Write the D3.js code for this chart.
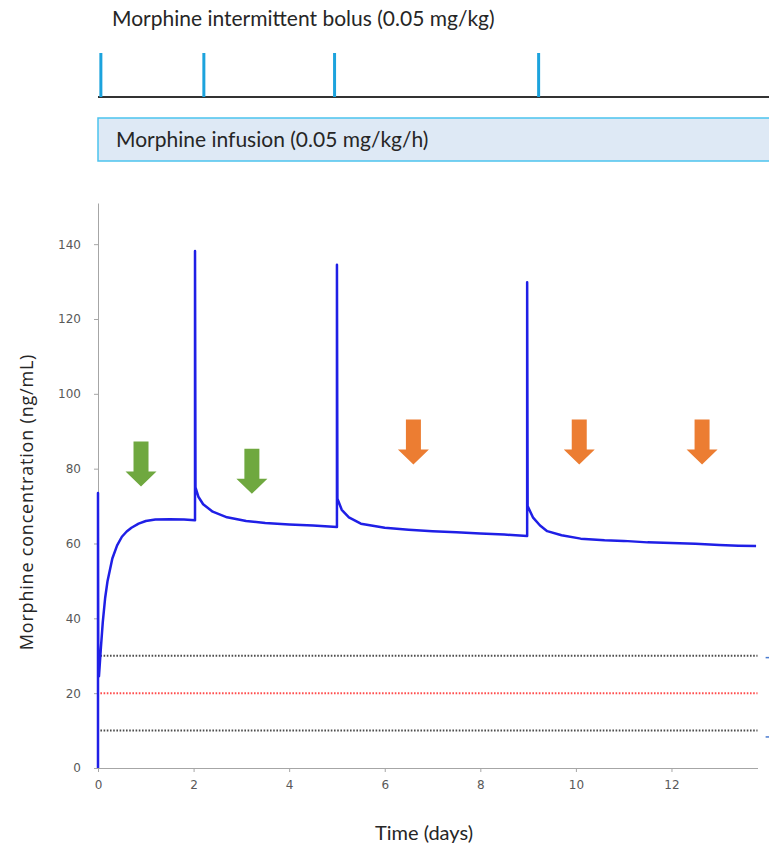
<!DOCTYPE html>
<html lang="en">
<head>
<meta charset="UTF-8">
<title>Morphine concentration</title>
<script src="https://d3js.org/d3.v7.min.js"></script>
<style>
  body { margin: 0; background: #fff; }
  .tick text { font-family: "DejaVu Sans", sans-serif; font-size: 12px; fill: #595959; }
  .axis path, .axis line { stroke: #a6a6a6; }
</style>
</head>
<body>
<script>
// ---- data ----
var timeDays = [0, 0, 0.005, 0.02, 0.06, 0.1, 0.15, 0.2, 0.3, 0.4, 0.5, 0.6, 0.7, 0.85, 1.0, 1.2, 1.5, 1.8, 2.03,
  2.03, 2.04, 2.1, 2.2, 2.4, 2.7, 3.1, 3.5, 4.0, 4.5, 5.0,
  5.0, 5.01, 5.1, 5.25, 5.5, 6.0, 6.5, 7.0, 7.5, 8.0, 8.5, 8.98,
  8.98, 8.99, 9.1, 9.25, 9.4, 9.7, 10.1, 10.6, 11.0, 11.5, 12.0, 12.5, 13.0, 13.4, 13.77];
var concentration = [0, 73.5, 30, 24.5, 32, 39, 45.5, 50, 56, 59.5, 61.8, 63.2, 64.2, 65.3, 66, 66.4, 66.5, 66.4, 66.2,
  138.2, 75, 72.5, 70.5, 68.5, 67, 66, 65.5, 65.1, 64.8, 64.4,
  134.5, 72, 69, 67, 65.3, 64.2, 63.7, 63.3, 63, 62.7, 62.4, 62,
  129.8, 70, 67, 64.8, 63.3, 62.2, 61.3, 60.9, 60.7, 60.3, 60.1, 59.9, 59.6, 59.4, 59.3];

var refLevels = [30, 20, 10];
var refColors = ["#4d4d4d", "#ff4d4d", "#4d4d4d"];

var bolusDays = [0.06, 2.215, 4.95, 9.22];

var arrowDays = [0.9, 3.22, 6.6, 10.07, 12.64];
var arrowTips = [75.2, 73.3, 81.1, 81.1, 81.1];
var arrowColors = ["#6fa83f", "#6fa83f", "#ec7d32", "#ec7d32", "#ec7d32"];

var edgeMarks = [29.5, 8.3];

var xTicks = [0, 2, 4, 6, 8, 10, 12];
var yTicks = [0, 20, 40, 60, 80, 100, 120, 140];

var bolusTitle = "Morphine intermittent bolus (0.05 mg/kg)";
var infusionTitle = "Morphine infusion (0.05 mg/kg/h)";
var yTitle = "Morphine concentration (ng/mL)";
var xTitle = "Time (days)";

// ---- svg ----
var w = 769, h = 850;
var svg = d3.select("body").append("svg").attr("width", w).attr("height", h);

var x = d3.scaleLinear().domain([0, 13.8]).range([98, 757.5]);
var y = d3.scaleLinear().domain([0, 151]).range([768, 203]);

// ---- top schematic ----
svg.append("text")
  .attr("x", 112).attr("y", 26)
  .style("font-family", "Lato, sans-serif").style("font-size", "21px").style("fill", "#262626")
  .text(bolusTitle);

svg.append("line")
  .attr("x1", x(0)).attr("x2", w).attr("y1", 97).attr("y2", 97)
  .attr("stroke", "#333").attr("stroke-width", 2);

svg.selectAll(".bolus")
  .data(bolusDays)
  .enter().append("line")
  .attr("class", "bolus")
  .attr("x1", function(d){ return x(d); })
  .attr("x2", function(d){ return x(d); })
  .attr("y1", 53).attr("y2", 97)
  .attr("stroke", "#1ca3dd").attr("stroke-width", 3);

svg.append("rect")
  .attr("x", x(0)).attr("y", 118)
  .attr("width", w).attr("height", 43)
  .attr("fill", "#dee9f5").attr("stroke", "#4cc3ee").attr("stroke-width", 1.5);

svg.append("text")
  .attr("x", 116).attr("y", 147)
  .style("font-family", "Lato, sans-serif").style("font-size", "21px").style("fill", "#262626")
  .text(infusionTitle);

// ---- axes ----
svg.append("g")
  .attr("class", "axis x")
  .attr("transform", "translate(0," + y(0) + ")")
  .call(d3.axisBottom(x).tickValues(xTicks).tickSize(4).tickPadding(8).tickSizeOuter(0));

svg.append("g")
  .attr("class", "axis y")
  .attr("transform", "translate(" + x(0) + ",0)")
  .call(d3.axisLeft(y).tickValues(yTicks).tickSize(4).tickPadding(13).tickSizeOuter(0));

svg.append("text")
  .attr("transform", "translate(33," + 502 + ") rotate(-90)")
  .attr("text-anchor", "middle")
  .style("font-family", "'Open Sans', sans-serif").style("font-size", "18px")
  .style("letter-spacing", "0.8px").style("fill", "#262626")
  .text(yTitle);

svg.append("text")
  .attr("x", 424).attr("y", 840)
  .attr("text-anchor", "middle")
  .style("font-family", "Lato, sans-serif").style("font-size", "20px").style("fill", "#262626")
  .text(xTitle);

// ---- reference levels ----
svg.selectAll(".ref")
  .data(refLevels)
  .enter().append("line")
  .attr("class", "ref")
  .attr("x1", x(0.05)).attr("x2", x(13.8))
  .attr("y1", function(d){ return y(d); })
  .attr("y2", function(d){ return y(d); })
  .attr("stroke", function(d, i){ return refColors[i]; })
  .attr("stroke-width", 2)
  .attr("stroke-dasharray", "1.6,1.6");

svg.selectAll(".edge")
  .data(edgeMarks)
  .enter().append("line")
  .attr("x1", x(13.97)).attr("x2", x(14.1))
  .attr("y1", function(d){ return y(d); })
  .attr("y2", function(d){ return y(d); })
  .attr("stroke", "#4a7bd0").attr("stroke-width", 1.5);

// ---- concentration curve ----
var pts = timeDays.map(function(t, i){ return [t, concentration[i]]; });
var line = d3.line()
  .x(function(d){ return x(d[0]); })
  .y(function(d){ return y(d[1]); });

svg.append("path")
  .datum(pts)
  .attr("d", line)
  .attr("fill", "none")
  .attr("stroke", "#1f1fe6")
  .attr("stroke-width", 2.5)
  .attr("stroke-linejoin", "round");

// ---- arrows ----
function arrowPath(cx, tipY) {
  var sw = 7.5, hw = 15.5, hh = 15, total = 45;
  return "M" + (cx - sw) + "," + (tipY - total) +
    "L" + (cx + sw) + "," + (tipY - total) +
    "L" + (cx + sw) + "," + (tipY - hh) +
    "L" + (cx + hw) + "," + (tipY - hh) +
    "L" + cx + "," + tipY +
    "L" + (cx - hw) + "," + (tipY - hh) +
    "L" + (cx - sw) + "," + (tipY - hh) + "Z";
}

svg.selectAll(".arrow")
  .data(arrowDays)
  .enter().append("path")
  .attr("class", "arrow")
  .attr("d", function(d, i){ return arrowPath(x(d), y(arrowTips[i])); })
  .attr("fill", function(d, i){ return arrowColors[i]; });
</script>
</body>
</html>
